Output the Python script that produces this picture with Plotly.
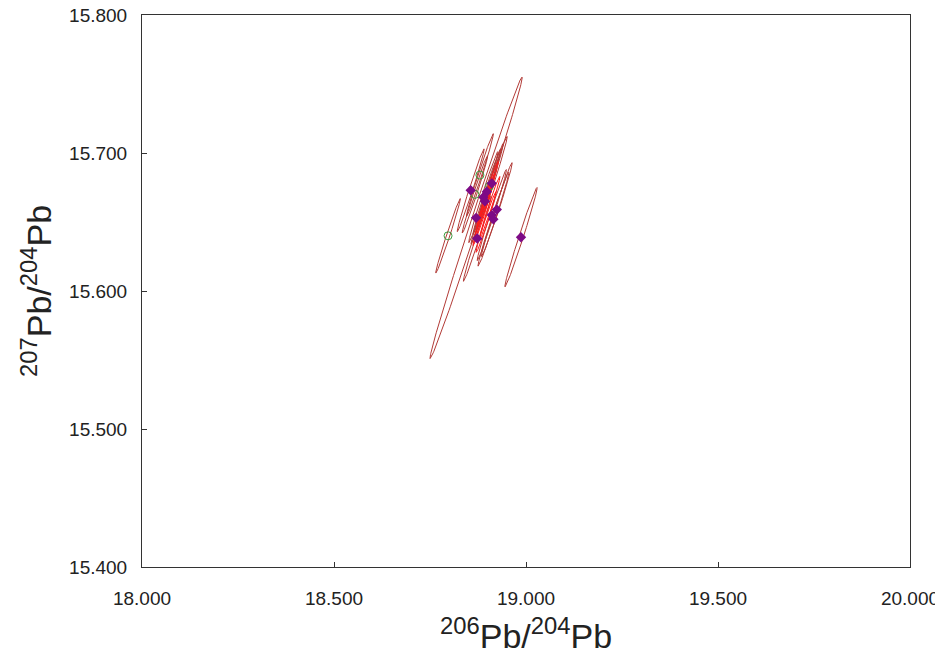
import numpy as np
import plotly.graph_objects as go

# Sample data: 206Pb/204Pb, 207Pb/204Pb, 2-sigma errors, error correlation
purple_x = [18.856, 18.889, 18.911, 18.893, 18.924, 18.870, 18.911, 18.915, 18.873, 18.987, 18.898]
purple_y = [15.673, 15.668, 15.678, 15.665, 15.659, 15.653, 15.655, 15.652, 15.638, 15.639, 15.672]
purple_sx = [0.035, 0.038, 0.040, 0.036, 0.040, 0.120, 0.038, 0.040, 0.036, 0.042, 0.036]
purple_sy = [0.030, 0.033, 0.034, 0.031, 0.034, 0.102, 0.033, 0.034, 0.031, 0.036, 0.031]
purple_rho = [0.99, 0.99, 0.99, 0.99, 0.99, 0.996, 0.99, 0.99, 0.99, 0.99, 0.99]

green_x = [18.797, 18.880, 18.867, 18.905]
green_y = [15.640, 15.684, 15.670, 15.676]
green_sx = [0.032, 0.035, 0.033, 0.036]
green_sy = [0.027, 0.030, 0.028, 0.031]
green_rho = [0.99, 0.99, 0.99, 0.99]

red_x = [18.893, 18.900, 18.887, 18.905, 18.896]
red_y = [15.662, 15.670, 15.655, 15.660, 15.650]
red_sx = [0.026, 0.028, 0.025, 0.027, 0.026]
red_sy = [0.023, 0.024, 0.022, 0.023, 0.022]
red_rho = [0.985, 0.985, 0.985, 0.985, 0.985]

x_ticks = [18.0, 18.5, 19.0, 19.5, 20.0]
y_ticks = [15.4, 15.5, 15.6, 15.7, 15.8]

ELL_COLOR = "#b23a36"
RED_COLOR = "#ff1a1a"
FONT = "Liberation Sans, Arial, sans-serif"


def ellipse(cx, cy, sx, sy, rho, n=180):
    t = np.linspace(0, 2 * np.pi, n)
    cov = np.array([[sx * sx, rho * sx * sy], [rho * sx * sy, sy * sy]])
    vals, vecs = np.linalg.eigh(cov)
    circ = np.vstack([np.cos(t), np.sin(t)])
    pts = vecs @ (np.sqrt(vals)[:, None] * circ)
    return cx + pts[0], cy + pts[1]


fig = go.Figure()

for xs, ys, sxs, sys_, rhos, col in [
    (green_x, green_y, green_sx, green_sy, green_rho, ELL_COLOR),
    (purple_x, purple_y, purple_sx, purple_sy, purple_rho, ELL_COLOR),
    (red_x, red_y, red_sx, red_sy, red_rho, RED_COLOR),
]:
    for cx, cy, sx, sy, r in zip(xs, ys, sxs, sys_, rhos):
        ex, ey = ellipse(cx, cy, sx, sy, r)
        fig.add_trace(go.Scatter(x=ex, y=ey, mode="lines",
                                 line=dict(color=col, width=1),
                                 hoverinfo="skip", showlegend=False))

fig.add_trace(go.Scatter(x=green_x, y=green_y, mode="markers",
                         marker=dict(symbol="circle-open", size=8,
                                     color="#3f9a3f", line=dict(width=1)),
                         showlegend=False))
fig.add_trace(go.Scatter(x=purple_x, y=purple_y, mode="markers",
                         marker=dict(symbol="diamond", size=8, color="#7d0a86"),
                         showlegend=False))

axis_common = dict(
    showgrid=False, zeroline=False, showline=True, linecolor="#333333",
    linewidth=1, mirror=True, ticks="inside", ticklen=5, tickcolor="#333333",
    automargin=False, ticklabeloverflow="allow",
    tickfont=dict(family=FONT, size=19, color="#222222"),
)

fig.update_layout(
    width=935, height=648,
    margin=dict(l=134, r=33, t=7, b=89),
    paper_bgcolor="white", plot_bgcolor="white",
    xaxis=dict(range=[18.0, 20.0], tickvals=x_ticks,
               ticktext=[f"{v:.3f}" for v in x_ticks],
               ticklabelstandoff=14, **axis_common),
    yaxis=dict(range=[15.4, 15.8], tickvals=y_ticks,
               ticktext=[f"{v:.3f}" for v in y_ticks],
               ticklabelstandoff=10, **axis_common),
    annotations=[
        dict(text="<sup>206</sup>Pb/<sup>204</sup>Pb", xref="paper", yref="paper",
             x=0.5, y=-0.12, xanchor="center", yanchor="middle", showarrow=False,
             font=dict(family=FONT, size=34, color="#222222")),
        dict(text="<sup>207</sup>Pb/<sup>204</sup>Pb", xref="paper", yref="paper",
             x=-0.138, y=0.5, xanchor="center", yanchor="middle", showarrow=False,
             textangle=-90, font=dict(family=FONT, size=34, color="#222222")),
    ],
)

fig.write_html("out.html")
